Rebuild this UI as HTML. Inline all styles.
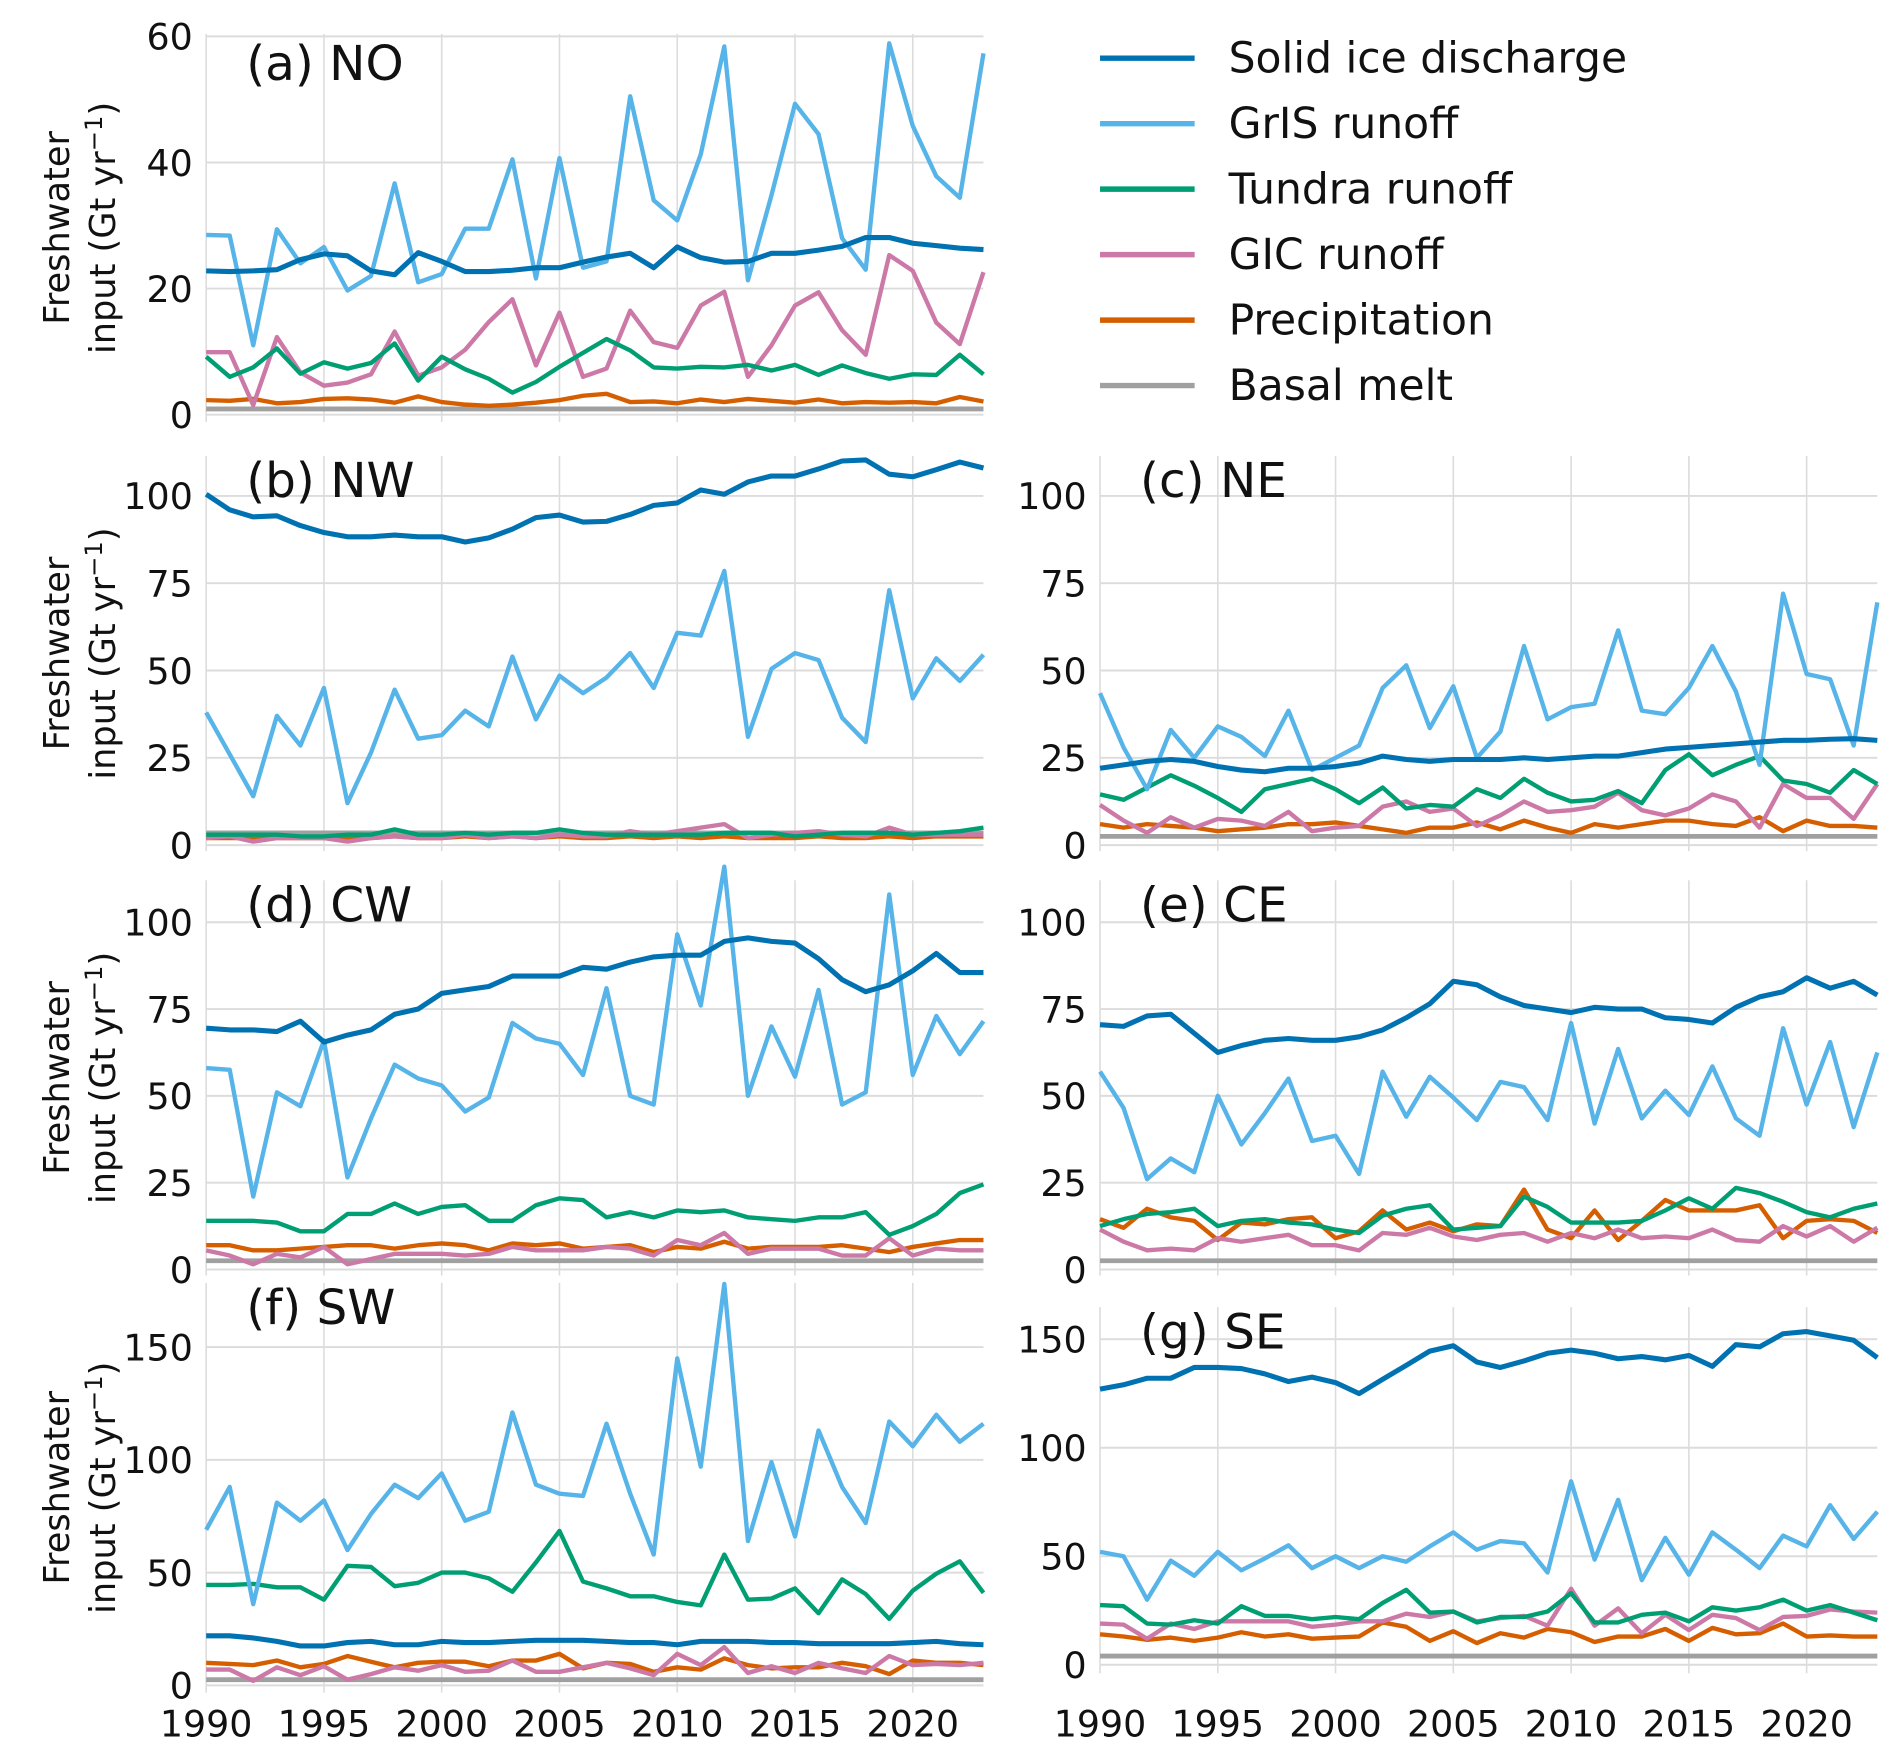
<!DOCTYPE html>
<html><head><meta charset="utf-8"><style>
html,body{margin:0;padding:0;background:#fff}
svg{display:block;font-family:"DejaVu Sans","Liberation Sans",sans-serif}
</style></head><body>
<svg id="chart" width="1892" height="1746" viewBox="0 0 1560 1440" preserveAspectRatio="none" xmlns="http://www.w3.org/2000/svg"></svg>
<script>
const years = [1990,1991,1992,1993,1994,1995,1996,1997,1998,1999,2000,2001,2002,2003,2004,2005,2006,2007,2008,2009,2010,2011,2012,2013,2014,2015,2016,2017,2018,2019,2020,2021,2022,2023];
const seriesNames = ["Solid ice discharge","GrIS runoff","Tundra runoff","GIC runoff","Precipitation","Basal melt"];
const xTicks = [1990,1995,2000,2005,2010,2015,2020];

const noSolid = [22.8,22.7,22.8,23.0,24.6,25.5,25.2,22.8,22.2,25.7,24.3,22.7,22.7,22.9,23.3,23.3,24.2,25.0,25.6,23.3,26.6,24.9,24.2,24.3,25.6,25.6,26.1,26.7,28.1,28.1,27.2,26.8,26.4,26.2];
const noGris = [28.5,28.4,11,29.4,24,26.6,19.7,22,36.7,21,22.3,29.5,29.5,40.5,21.6,40.7,23.3,24.3,50.5,34,30.8,41.3,58.4,21.3,34.8,49.3,44.5,28,23,58.9,45.8,37.8,34.4,57.3];
const noTundra = [9.2,6,7.5,10.5,6.5,8.3,7.3,8.2,11.3,5.4,9.2,7.2,5.7,3.5,5.2,7.6,9.8,12,10.2,7.5,7.3,7.6,7.5,7.9,7,7.9,6.3,7.8,6.6,5.7,6.4,6.3,9.5,6.4];
const noGic = [9.9,9.9,1.5,12.3,6.7,4.6,5.1,6.4,13.2,6.2,7.5,10.3,14.7,18.3,7.8,16.2,6,7.3,16.5,11.5,10.6,17.3,19.5,6,11,17.3,19.4,13.4,9.5,25.3,22.8,14.6,11.2,22.6];
const noPrecip = [2.3,2.2,2.5,1.8,2,2.5,2.6,2.4,1.9,2.9,2.0,1.6,1.4,1.6,1.9,2.3,3,3.3,2,2.1,1.8,2.4,2,2.5,2.2,1.9,2.4,1.8,2,1.9,2,1.8,2.8,2.1];
const noBasal = [0.9];
const noTicks = [0,20,40,60];

const nwSolid = [100.5,96,94,94.3,91.5,89.5,88.3,88.3,88.8,88.3,88.3,86.8,88,90.5,93.8,94.5,92.5,92.7,94.7,97.3,98,101.7,100.5,104,105.7,105.7,107.7,110,110.3,106.2,105.5,107.5,109.7,108];
const nwGris = [38,26,14,37,28.5,45,12,26.5,44.5,30.5,31.5,38.5,34,54,36,48.5,43.5,48,55,45,60.8,60,78.5,31,50.5,55,53,36.5,29.5,73,42,53.5,47,54.5];
const nwTundra = [3,3,3,3,2.5,2.5,3,3,4.5,3,3,3.5,3,3.5,3.5,4.5,3.5,3,3,3,3,3,3.5,3.5,3.5,2.5,3,3.5,3.5,3.5,3,3.5,4,5];
const nwGic = [2,2.5,1,2,2,2,1,2,2.5,2,2,3,2,2.5,2,3,2.5,2.5,4,3,4,5,6,2,3,3.5,4,3,2.5,5,3,3,3,3];
const nwPrecip = [2,2,2,2,2,2,2,2,2.5,2,2,2.5,2,2.5,2,2.5,2,2,2.5,2,2.5,2,2.5,2,2,2,2.5,2,2,2.5,2,2.5,2.5,2.5];
const nwBasal = [3.5];

const neSolid = [22,23,24,24.5,24,22.5,21.5,21,22,22,22.5,23.5,25.5,24.5,24,24.5,24.5,24.5,25,24.5,25,25.5,25.5,26.5,27.5,28,28.5,29,29.5,30,30,30.3,30.5,30];
const neGris = [43.5,28,16,33,25,34,31,25.5,38.5,21.5,25,28.5,45,51.5,33.5,45.5,25,32.5,57,36,39.5,40.5,61.5,38.5,37.5,45,57,44,23,72,49,47.5,28.5,69.5];
const neTundra = [14.5,13,16.5,20,17,13.5,9.5,16,17.5,19,16,12,16.5,10.5,11.5,11,16,13.5,19,15,12.5,13,15.5,12,21.5,26,20,23,25.5,18.5,17.5,15,21.5,17.5];
const neGic = [11.5,7,3.5,8,5,7.5,7,5.5,9.5,4,5,5.5,11,12.5,9.5,10.5,5.5,8.5,12.5,9.5,10,11,15,10,8.5,10.5,14.5,12.5,5,17.5,13.5,13.5,7.5,17.5];
const nePrecip = [6,5,6,5.5,5,4,4.5,5,6,6,6.5,5.5,4.5,3.5,5,5,6.5,4.5,7,5,3.5,6,5,6,7,7,6,5.5,8,4,7,5.5,5.5,5];
const neBasal = [2.5];
const mid_ticks = [0,25,50,75,100];

const cwSolid = [69.5,69,69,68.5,71.5,65.5,67.5,69,73.5,75,79.5,80.5,81.5,84.5,84.5,84.5,87,86.5,88.5,90,90.5,90.5,94.5,95.5,94.5,94,89.5,83.5,80,82,86,91,85.5,85.5];
const cwGris = [58,57.5,21,51,47,66,26.5,43.5,59,55,53,45.5,49.5,71,66.5,65,56,81,50,47.5,96.5,76,116,50,70,55.5,80.5,47.5,51,108,56,73,62,71.5];
const cwTundra = [14,14,14,13.5,11,11,16,16,19,16,18,18.5,14,14,18.5,20.5,20,15,16.5,15,17,16.5,17,15,14.5,14,15,15,16.5,10,12.5,16,22,24.5];
const cwGic = [5.5,4,1.5,4.5,3.5,6.5,1.5,3,4.5,4.5,4.5,4,4.5,6.5,5.5,5.5,5.5,6.5,6,4,8.5,7,10.5,4.5,6,6,6,4,4,9,4,6,5.5,5.5];
const cwPrecip = [7,7,5.5,5.5,6,6.5,7,7,6,7,7.5,7,5.5,7.5,7,7.5,6,6.5,7,5,6.5,6,8,6,6.5,6.5,6.5,7,6,5,6.5,7.5,8.5,8.5];
const cwBasal = [2.5];

const ceSolid = [70.5,70,73,73.5,68,62.5,64.5,66,66.5,66,66,67,69,72.5,76.5,83,82,78.5,76,75,74,75.5,75,75,72.5,72,71,75.5,78.5,80,84,81,83,79];
const ceGris = [57,46.5,26,32,28,50,36,45,55,37,38.5,27.5,57,44,55.5,49.5,43,54,52.5,43,71,42,63.5,43.5,51.5,44.5,58.5,43.5,38.5,69.5,47.5,65.5,41,62.5];
const ceTundra = [12.5,14.5,16,16.5,17.5,12.5,14,14.5,13.5,13,11.5,10.5,15.5,17.5,18.5,11.5,12,12.5,21,18,13.5,13.5,13.5,14,17,20.5,17.5,23.5,22,19.5,16.5,15,17.5,19];
const ceGic = [11.5,8,5.5,6,5.5,9,8,9,10,7,7,5.5,10.5,10,12,9.5,8.5,10,10.5,8,10.5,9,11.5,9,9.5,9,11.5,8.5,8,12.5,9.5,12.5,8,12];
const cePrecip = [14.5,12,17.5,15,14,8.5,13.5,13,14.5,15,9,11,17,11.5,13.5,11,13,12.5,23,11.5,9,17,8.5,14,20,17,17,17,18.5,9,14,14.5,14,10.5];
const ceBasal = [2.5];

const swSolid = [22,22,21,19.5,17.5,17.5,19,19.5,18,18,19.5,19,19,19.5,20,20,20,19.5,19,19,18,19.5,19.5,19.5,19,19,18.5,18.5,18.5,18.5,19,19.5,18.5,18];
const swGris = [69,88,36,81,73,82,60,76,89,83,94,73,77,121,89,85,84,116,85,58,145,97,178,64,99,66,113,88,72,117,106,120,108,116];
const swTundra = [44.5,44.5,45,43.5,43.5,38,53,52.5,44,45.5,50,50,47.5,41.5,54.5,68.5,46,43,39.5,39.5,37,35.5,58,38,38.5,43,32,47,40.5,29.5,42,49.5,55,41];
const swGic = [7,7,2,8,4.5,8.5,2.5,5,8,6.5,9,6,6.5,11,6,6,8,10,7.5,4.5,14,9,17,5.5,8.5,5.5,10,7.5,5.5,13,9,9.5,9,10];
const swPrecip = [10,9.5,9,11,8,9.5,13,10.5,8,10,10.5,10.5,8.5,11,11,14,7.5,10,9.5,6,8,7,12,9,7.5,8,8,10,8.5,5,11,10,10,9];
const swBasal = [2.5];
const big_ticks = [0,50,100,150];

const seSolid = [127,129,132,132,137,137,136.5,134,130.5,132.5,130,125,131.5,138,144.5,147,139.5,137,140,143.5,145,143.5,141,142,140.5,142.5,137.5,147.5,146.5,152.5,153.5,151.5,149.5,141.5];
const seGris = [52,50,30,48,41,52,43.5,49,55,44.5,50,44.5,50,47.5,54.5,61,53,57,56,42.5,84.5,48.5,76,39,58.5,41.5,61,53,44.5,59.5,54.5,73.5,58,70.5];
const seTundra = [27.5,27,19,18.5,20.5,19,27,22.5,22.5,21,22,21,28.5,34.5,24,24.5,19.5,22,22,24.5,33,19.5,19.5,23,24,20,26.5,25,26.5,30,25,27.5,24,20.5];
const seGic = [19,18.5,12,19,16.5,20,20,20,20,17.5,18.5,20,20,23.5,22,24.5,20,21.5,22.5,18,35,18,26,14.5,23,16,23,21.5,16,22,22.5,25.5,24.5,24];
const sePrecip = [14,13,11.5,12.5,11,12.5,15,13,14,12,12.5,13,19.5,17.5,11,15.5,10,14.5,12.5,16.5,15,10.5,13,13,16.5,11,17,14,14.5,19,13,13.5,13,13];
const seBasal = [4];

const NS = "http://www.w3.org/2000/svg";
const svg = document.getElementById('chart');
const colors = ["#0072B2","#56B4E9","#009E73","#CC79A7","#D55E00","#A0A0A0"];
const widths = [4.2,3.6,3.6,3.6,3.6,4.0];
function mk(tag, attrs, parent){const e=document.createElementNS(NS,tag);for(const k in attrs)e.setAttribute(k,attrs[k]);(parent||svg).appendChild(e);return e;}

const panels = [
 {id:"no",label:"(a) NO",left:true,x0:170,y0:342,k:5.2,top:28,bot:348,ticks:noTicks,data:[noSolid,noGris,noTundra,noGic,noPrecip,noBasal],xl:false},
 {id:"nw",label:"(b) NW",left:true,x0:170,y0:697,k:2.88,top:376,bot:702,ticks:mid_ticks,data:[nwSolid,nwGris,nwTundra,nwGic,nwPrecip,nwBasal]},
 {id:"ne",label:"(c) NE",left:false,x0:907,y0:697,k:2.88,top:376,bot:702,ticks:mid_ticks,data:[neSolid,neGris,neTundra,neGic,nePrecip,neBasal]},
 {id:"cw",label:"(d) CW",left:true,x0:170,y0:1047,k:2.864,top:726,bot:1052,ticks:mid_ticks,data:[cwSolid,cwGris,cwTundra,cwGic,cwPrecip,cwBasal]},
 {id:"ce",label:"(e) CE",left:false,x0:907,y0:1047,k:2.864,top:726,bot:1052,ticks:mid_ticks,data:[ceSolid,ceGris,ceTundra,ceGic,cePrecip,ceBasal]},
 {id:"sw",label:"(f) SW",left:true,x0:170,y0:1390,k:1.86,top:1058,bot:1396,ticks:big_ticks,data:[swSolid,swGris,swTundra,swGic,swPrecip,swBasal],xl:true},
 {id:"se",label:"(g) SE",left:false,x0:907,y0:1373,k:1.79,top:1078,bot:1380,ticks:big_ticks,data:[seSolid,seGris,seTundra,seGic,sePrecip,seBasal],xl:true}
];
const dx = 19.42;

panels.forEach(p=>{
  const g = mk('g',{});
  
  
  const xs = yr => p.x0 + (yr-1990)*dx;
  const ys = v => p.y0 - v*p.k;
  const xEnd = xs(2023);
  xTicks.forEach(t=>{
    const l = mk('line',{x1:xs(t),x2:xs(t),y1:p.top,y2:p.bot,stroke:"#dcdcdc","stroke-width":1.3},g);
    
    
  });
  p.ticks.forEach(t=>{
    const l = mk('line',{x1:p.x0,x2:xEnd,y1:ys(t),y2:ys(t),stroke:"#dcdcdc","stroke-width":1.6},g);
    
    
    const tx = mk('text',{x:p.x0-11,y:ys(t)+11,"text-anchor":"end","font-size":30,fill:"#111"},g);
    tx.textContent = t;
    
    
  });
  if(p.xl){
    xTicks.forEach(t=>{
      const tx = mk('text',{x:xs(t),y:1432,"text-anchor":"middle","font-size":30,fill:"#111"},g);
      tx.textContent = t;
      
      
    });
  }
  [5,4,3,2,1,0].forEach(si=>{
    const arr = p.data[si];
    let pts;
    if(arr.length===1){ pts = [[xs(1990),ys(arr[0])],[xs(2023),ys(arr[0])]]; }
    else pts = arr.map((v,i)=>[xs(years[i]),ys(v)]);
    const pl = mk('polyline',{points:pts.map(q=>q[0].toFixed(1)+","+q[1].toFixed(1)).join(" "),fill:"none",stroke:colors[si],"stroke-width":widths[si],"stroke-linejoin":"round"},g);
    
    
  });
  const lab = mk('text',{x:p.x0+33,y:p.top+(p.id==="no"?35:31)+3,"font-size":40,fill:"#111"},g);
  lab.textContent = p.label;
  
  
  if(p.left){
    const cy = (p.top+p.bot)/2;
    const t1 = mk('text',{x:0,y:0,"text-anchor":"middle","font-size":29,fill:"#111",transform:`translate(57,${cy}) rotate(-90)`},g);
    t1.textContent = "Freshwater";
    
    
    const t2 = mk('text',{x:0,y:0,"text-anchor":"middle","font-size":29,fill:"#111",transform:`translate(95,${cy}) rotate(-90)`},g);
    t2.innerHTML = 'input (Gt yr<tspan dy="-11" font-size="20">−1</tspan><tspan dy="11">)</tspan>';
    
    
  }
});

const lg = mk('g',{});


seriesNames.forEach((n,i)=>{
  const y = 48 + i*54;
  const l = mk('line',{x1:907,x2:985,y1:y,y2:y,stroke:colors[i],"stroke-width":4.5},lg);
  
  
  const t = mk('text',{x:1013,y:y+12,"font-size":35,fill:"#111"},lg);
  t.textContent = n;
  
  
});
</script>
</body></html>
